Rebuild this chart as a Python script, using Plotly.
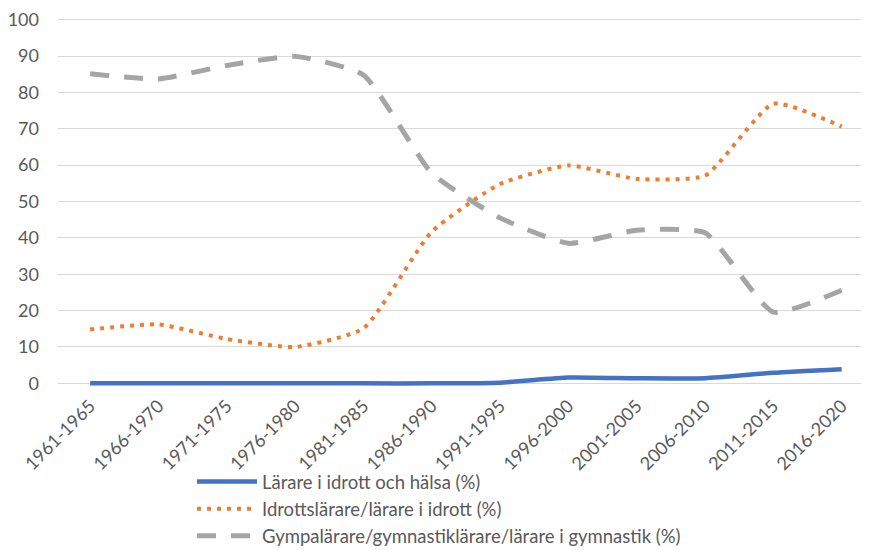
import plotly.graph_objects as go

categories = ["1961-1965", "1966-1970", "1971-1975", "1976-1980", "1981-1985", "1986-1990",
              "1991-1995", "1996-2000", "2001-2005", "2006-2010", "2011-2015", "2016-2020"]
larare_idh = [0, 0, 0, 0, 0, 0, 0.2, 1.6, 1.4, 1.4, 2.9, 3.9]
idrottslarare = [14.8, 16.2, 12.2, 10.0, 15.1, 41.7, 54.8, 59.9, 56.2, 57.1, 76.9, 70.6]
gympalarare = [85.1, 83.7, 87.4, 89.9, 84.8, 57.8, 45.5, 38.5, 42.1, 41.4, 19.6, 25.6]
y_ticks = [0, 10, 20, 30, 40, 50, 60, 70, 80, 90, 100]

names = ["Lärare i idrott och hälsa (%)",
         "Idrottslärare/lärare i idrott (%)",
         "Gympalärare/gymnastiklärare/lärare i gymnastik (%)"]

fig = go.Figure()
fig.add_trace(go.Scatter(x=categories, y=larare_idh, mode="lines", name=names[0],
                         legendgroup="a",
                         line=dict(color="#4472C4", width=4.5, shape="spline", smoothing=0.5)))
fig.add_trace(go.Scatter(x=categories, y=idrottslarare, mode="lines", name=names[1],
                         legendgroup="b",
                         line=dict(color="#ED7D31", width=4, dash="4px,6px", shape="spline", smoothing=0.5)))
fig.add_trace(go.Scatter(x=categories, y=gympalarare, mode="lines", name=names[2],
                         legendgroup="c",
                         line=dict(color="#A5A5A5", width=5, dash="19px,15px", shape="spline", smoothing=0.5)))

# the page body adds an 8px margin, so the figure is drawn 8px smaller
W, H = 861, 542
L, T, B = 50, 8, 163
fig.update_layout(
    width=W, height=H,
    margin=dict(l=L, r=0, t=T, b=B, autoexpand=False),
    paper_bgcolor="white", plot_bgcolor="white",
    font=dict(family="Lato, Open Sans, sans-serif", color="#595959"),
    showlegend=True,
    legend=dict(orientation="v", x=(184 - L) / (W - L), xanchor="left", y=-0.205, yanchor="top",
                font=dict(size=18.5, color="#595959"), tracegroupgap=0, itemwidth=60,
                bgcolor="rgba(0,0,0,0)"),
    xaxis=dict(type="category", range=[-0.47, 11.4], showgrid=False, showline=False,
               ticks="", tickangle=-45, tickfont=dict(size=18, color="#595959"),
               zeroline=False, automargin=False, ticklabeloverflow="allow",
               ticklabelstandoff=4),
    yaxis=dict(range=[-1, 101], tickvals=y_ticks, showgrid=True, gridcolor="#D9D9D9",
               gridwidth=1, zeroline=False, showline=False, ticks="",
               tickfont=dict(size=18, color="#595959"), ticklabelstandoff=18,
               automargin=False, ticklabeloverflow="allow"),
)

fig.write_html("out.html")
